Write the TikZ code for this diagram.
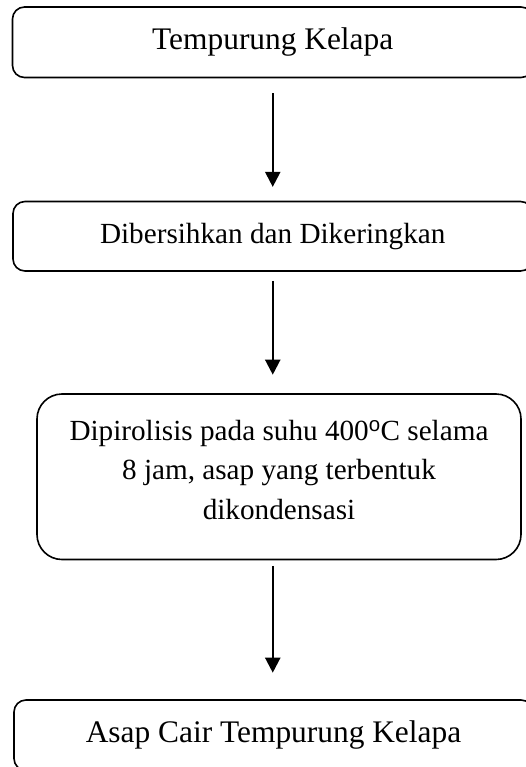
\documentclass[tikz,border=0pt]{standalone}
\usepackage{fontspec}
\setmainfont{Liberation Serif}
\setsansfont{Liberation Sans}
\usetikzlibrary{arrows.meta}
\begin{document}
\begin{tikzpicture}[x=1pt,y=-1pt,
  box/.style={draw, line width=1.6pt, rounded corners=12pt, inner sep=0pt},
  flow/.style={line width=2.2pt, -{Triangle[width=15pt,length=15pt]}},
  big/.style={font=\fontsize{31.4}{37}\selectfont},
  mid/.style={font=\fontsize{29.2}{39.5}\selectfont}]
\useasboundingbox (0,0) rectangle (526,767);
\clip (0,0) rectangle (526,767);
\node[box, big, minimum width=520.5pt, minimum height=70.5pt] (raw) at (272.75,42.25) {Tempurung Kelapa};
\node[box, mid, minimum width=519.5pt, minimum height=69.5pt] (clean) at (272.75,236.25) {Dibersihkan dan Dikeringkan};
\node[box, rounded corners=25pt, minimum width=484pt, minimum height=165.5pt] (pyro) at (279,476.75) {};
\node[mid, align=center, anchor=north, inner sep=0pt] (pyrotext) at (279,420) {Dipirolisis pada suhu 400\textsuperscript{\sffamily o}C selama\\8 jam, asap yang terbentuk\\dikondensasi};
\node[box, big, minimum width=519pt, minimum height=70.5pt] (liquid) at (273.5,735.25) {Asap Cair Tempurung Kelapa};
\draw[flow, shorten <=15pt, shorten >=13.8pt] (raw.south) -- (clean.north);
\draw[flow, shorten <=9pt, shorten >=18.5pt] (clean.south) -- (clean.south |- pyro.north);
\draw[flow, shorten <=5.5pt, shorten >=26.5pt] (clean.south |- pyro.south) -- (clean.south |- liquid.north);
\end{tikzpicture}
\end{document}
